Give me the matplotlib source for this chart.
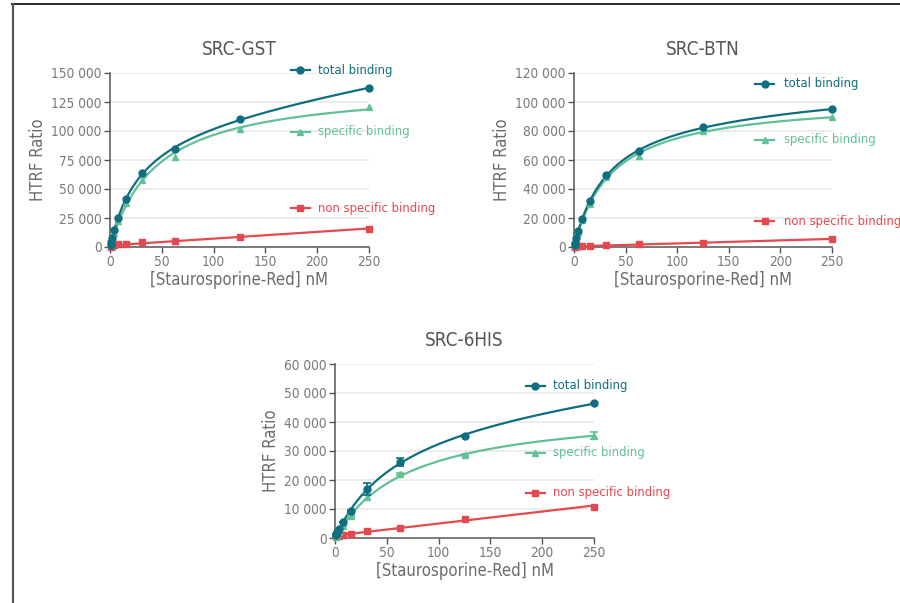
import numpy as np
import matplotlib
matplotlib.use('Agg')
import matplotlib.pyplot as plt
from matplotlib.lines import Line2D

plt.rcParams['font.family'] = ['DejaVu Sans']
plt.rcParams['font.stretch'] = 'condensed'

TEAL = '#0f6e7f'
GREEN = '#62c096'
RED = '#e5484f'
GREY = '#6b6b6b'

# ligand concentrations (nM)
conc = [0.49, 0.98, 1.95, 3.9, 7.8, 15.6, 31.25, 62.5, 125, 250]

gst_total = [2000, 4500, 8000, 14600, 25000, 41600, 63500, 84500, 110500, 137000]
gst_specific = [1500, 3500, 6500, 12000, 22000, 38000, 58000, 78000, 101500, 121000]
gst_nonspec = [300, 600, 1000, 1500, 2500, 2500, 4500, 5500, 9000, 15500]

btn_total = [1500, 3000, 6000, 10800, 19500, 31500, 49500, 66000, 82800, 95000]
btn_specific = [1200, 2700, 5500, 10000, 18500, 30000, 48000, 63000, 80000, 89500]
btn_nonspec = [200, 300, 400, 500, 600, 700, 1200, 2000, 3000, 5500]

his_total = [1000, 1500, 2000, 3200, 5500, 9300, 16900, 26200, 35300, 46400]
his_total_err = [0, 0, 0, 0, 0, 300, 2000, 1500, 300, 300]
his_specific = [300, 700, 1200, 2000, 4000, 7600, 14100, 22000, 28600, 35200]
his_specific_err = [0, 0, 0, 0, 0, 300, 1000, 300, 300, 1200]
his_nonspec = [600, 800, 800, 800, 1200, 1500, 2300, 3600, 6700, 10800]

panels = [
    dict(title='SRC-GST', total=gst_total, specific=gst_specific, nonspec=gst_nonspec,
         ymax=150000, ystep=25000, pos=(110, 73, 259, 174),
         leg=(0.699, 0.803, [1.017, 0.661, 0.224])),
    dict(title='SRC-BTN', total=btn_total, specific=btn_specific, nonspec=btn_nonspec,
         ymax=120000, ystep=20000, pos=(574, 73, 258, 174),
         leg=(0.702, 0.814, [0.937, 0.615, 0.149])),
    dict(title='SRC-6HIS', total=his_total, specific=his_specific, nonspec=his_nonspec,
         total_err=his_total_err, specific_err=his_specific_err,
         ymax=60000, ystep=10000, pos=(335, 364, 259, 174),
         leg=(0.737, 0.842, [0.874, 0.489, 0.259])),
]


def fit_hyperbola(x, y, linear=False):
    # one-site binding, optionally with a linear non-specific term
    x = np.asarray(x, float)
    y = np.asarray(y, float)
    best = None
    for kd in np.logspace(0, 3, 600):
        cols = [x / (kd + x)]
        if linear:
            cols.append(x)
        A = np.column_stack(cols)
        p, *_ = np.linalg.lstsq(A, y, rcond=None)
        err = np.sum((A @ p - y) ** 2)
        if best is None or err < best[0]:
            best = (err, kd, p)
    _, kd, p = best

    def f(xx):
        out = p[0] * xx / (kd + xx)
        if linear:
            out = out + p[1] * xx
        return out
    return f


def fmt(v):
    return '{:,}'.format(int(v)).replace(',', ' ')


fig = plt.figure(figsize=(9, 6.03), dpi=100)
W, H = 900, 603

# page frame
fig.add_artist(Line2D([12 / W, 1], [1 - 4 / H, 1 - 4 / H], color='#2b2b2b', lw=1.4))
fig.add_artist(Line2D([12.5 / W, 12.5 / W], [0, 1 - 4 / H], color='#555555', lw=1.6))

for p in panels:
    x0, y0, w, h = p['pos']
    ax = fig.add_axes([x0 / W, 1 - (y0 + h) / H, w / W, h / H])
    xs = np.linspace(0, 250, 400)

    f_tot = fit_hyperbola(conc, p['total'], linear=True)
    f_spec = fit_hyperbola(conc, p['specific'])
    slope, icpt = np.polyfit(conc, p['nonspec'], 1)

    ax.plot(xs, f_tot(xs), color=TEAL, lw=1.6, zorder=4)
    ax.plot(xs, f_spec(xs), color=GREEN, lw=1.6, zorder=3)
    ax.plot(xs, slope * xs + icpt, color=RED, lw=1.6, zorder=3)

    ax.errorbar(conc, p['total'], yerr=p.get('total_err'), fmt='o', color=TEAL,
                ms=5, capsize=3, elinewidth=1.2, capthick=1.2, zorder=5, clip_on=False)
    ax.errorbar(conc, p['specific'], yerr=p.get('specific_err'), fmt='^', color=GREEN,
                ms=5, capsize=3, elinewidth=1.2, capthick=1.2, zorder=4, clip_on=False)
    ax.plot(conc, p['nonspec'], 's', color=RED, ms=5, zorder=4, clip_on=False)

    ax.set_xlim(0, 250)
    ax.set_ylim(0, p['ymax'])
    ax.set_xticks(np.arange(0, 251, 50))
    yt = np.arange(0, p['ymax'] + 1, p['ystep'])
    ax.set_yticks(yt)
    ax.set_yticklabels([fmt(v) for v in yt])
    for v in yt[1:]:
        ax.axhline(v, color='#e9e9e9', lw=1.2, zorder=0)

    for s in ['top', 'right']:
        ax.spines[s].set_visible(False)
    for s in ['left', 'bottom']:
        ax.spines[s].set_color('#555555')
        ax.spines[s].set_linewidth(1.1)
    ax.tick_params(colors='#555555', labelcolor='#7a7a7a', labelsize=9.8,
                   length=4, width=1, pad=2)

    ax.set_xlabel('[Staurosporine-Red] nM', color=GREY, fontsize=12, labelpad=1)
    ax.set_ylabel('HTRF Ratio', color=GREY, fontsize=12, labelpad=3)
    ax.set_title(p['title'], color='#555555', fontsize=13.5, pad=13)

    hx, tx, ys = p['leg']
    items = [('total binding', TEAL, 'o'), ('specific binding', GREEN, '^'),
             ('non specific binding', RED, 's')]
    for (label, col, mk), yy in zip(items, ys):
        ax.plot([hx, hx + 0.073], [yy, yy], color=col, lw=1.6,
                transform=ax.transAxes, clip_on=False)
        ax.plot([hx + 0.0365], [yy], mk, color=col, ms=5,
                transform=ax.transAxes, clip_on=False)
        ax.text(tx, yy, label, color=col, fontsize=9.4, va='center', ha='left',
                transform=ax.transAxes)

fig.savefig('out.png', dpi=100)
